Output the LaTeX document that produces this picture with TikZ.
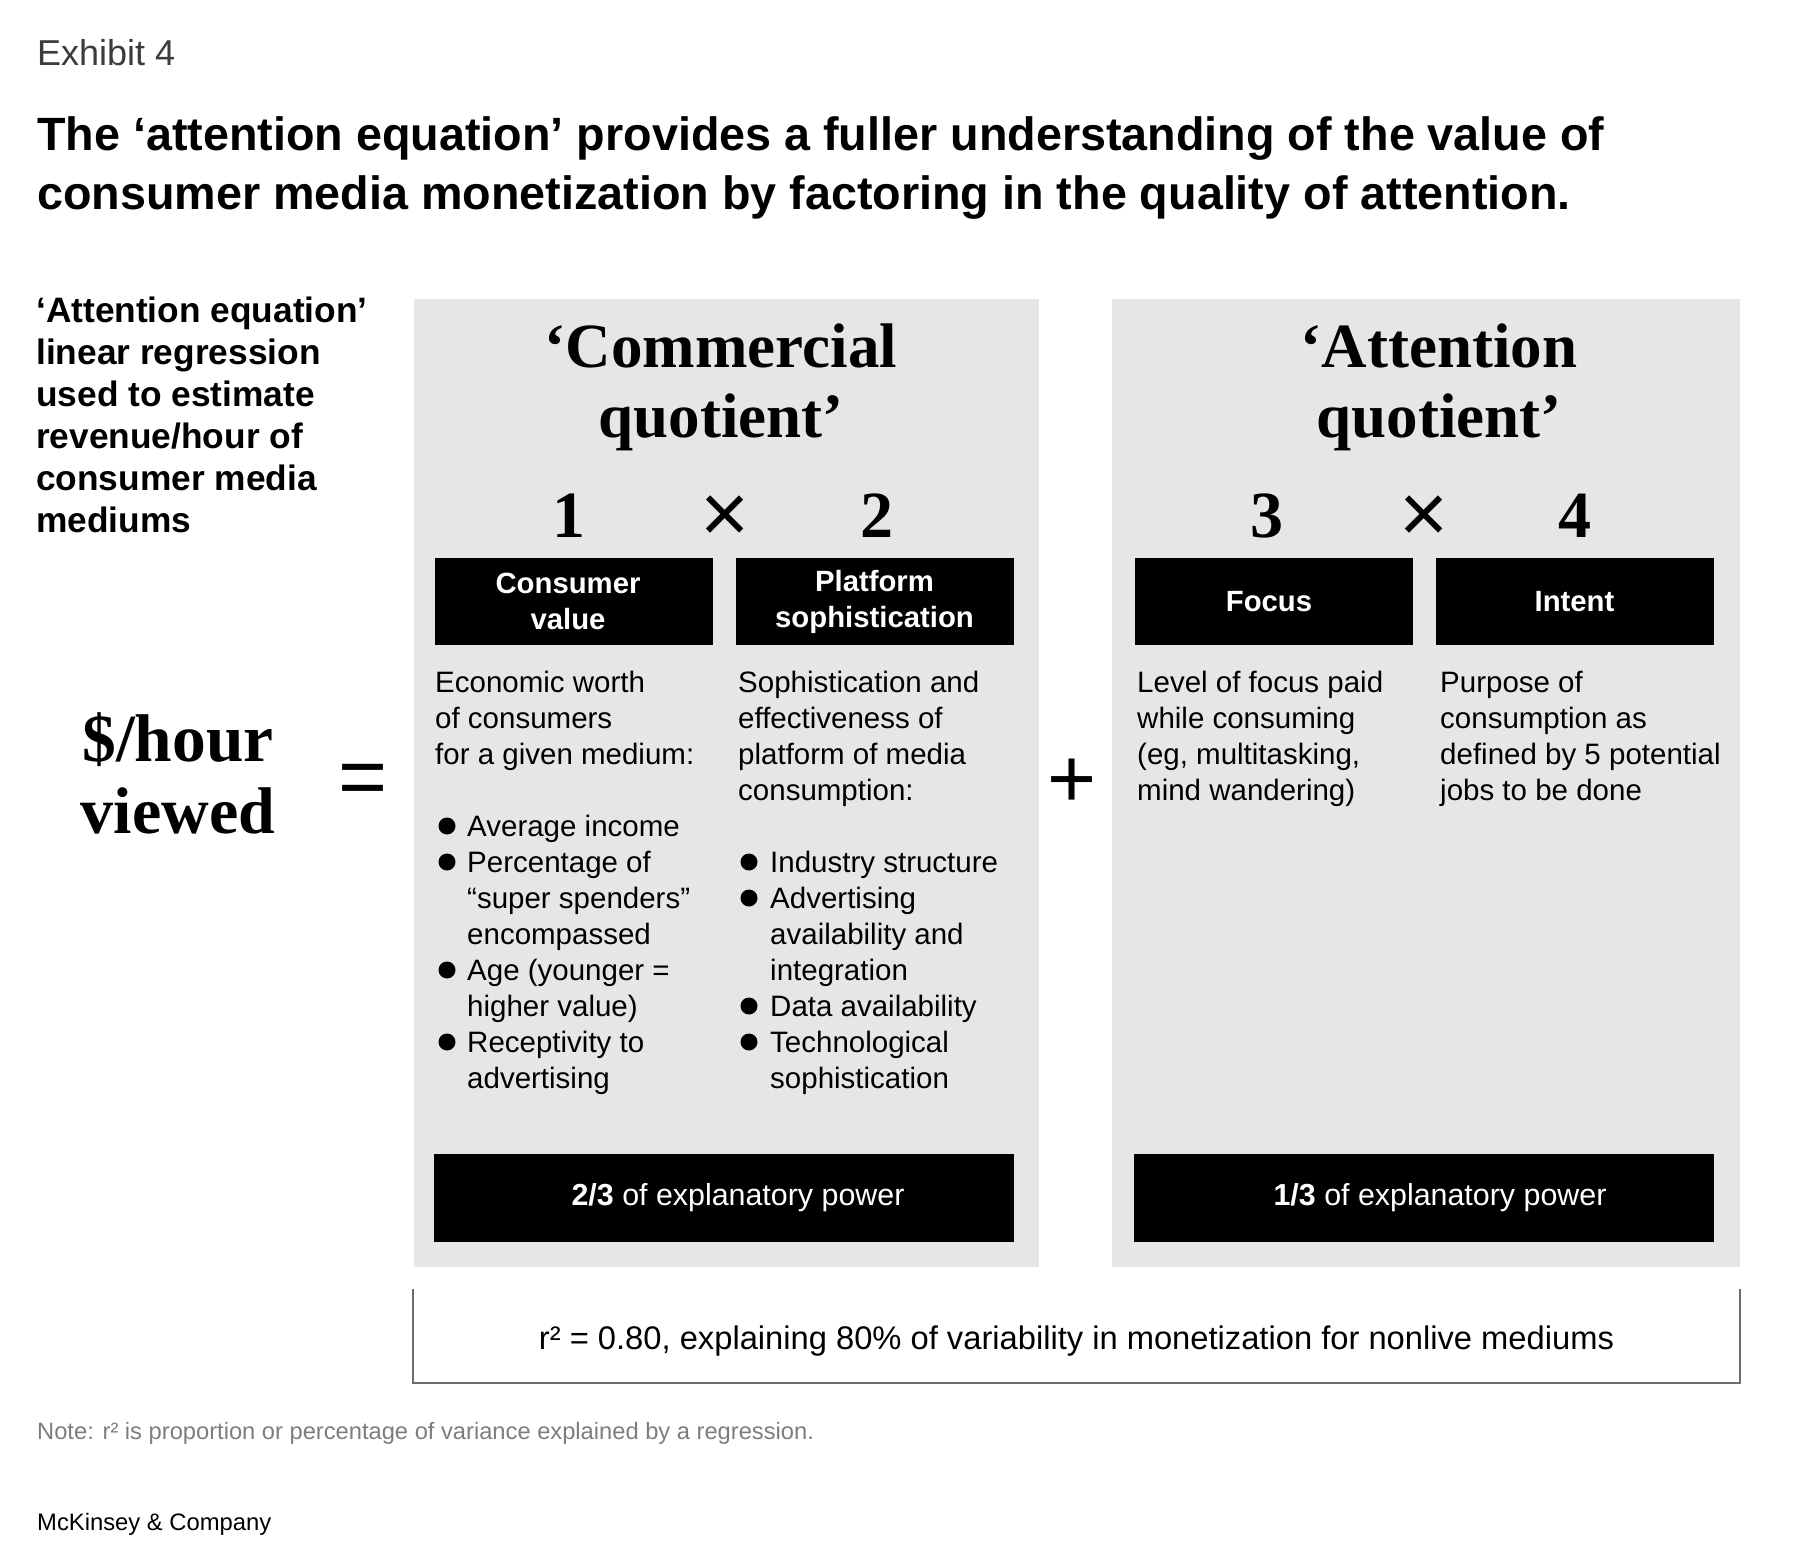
\documentclass[tikz,border=0pt]{standalone}
\usepackage{fontspec}
\setmainfont{Liberation Sans}
\newfontfamily\serifa{Liberation Serif}
\usetikzlibrary{positioning}

\definecolor{fondo}{RGB}{230,230,232}
\definecolor{borde}{RGB}{110,110,110}
\definecolor{gris}{RGB}{125,125,125}
\definecolor{oscuro}{RGB}{60,60,60}

\tikzset{
  panel/.style={fill=fondo, inner sep=0pt, anchor=north west},
  caja/.style={fill=black, text=white, inner sep=0pt, align=center,
    minimum width=278pt, minimum height=87pt,
    font=\bfseries\fontsize{29.3}{36}\selectfont},
  pie/.style={fill=black, inner sep=0pt, minimum width=580pt, minimum height=88pt},
  pietexto/.style={text=white, inner sep=0pt, font=\fontsize{30.4}{36}\selectfont},
  linea/.style={anchor=base west, inner sep=0pt, font=\fontsize{29.5}{36}\selectfont},
  izq/.style={anchor=base west, inner sep=0pt, font=\bfseries\fontsize{35.3}{42}\selectfont},
  cita/.style={anchor=base, inner sep=0pt, font=\serifa\bfseries\fontsize{63}{70}\selectfont},
  numero/.style={anchor=base, inner sep=0pt, font=\serifa\bfseries\fontsize{66}{70}\selectfont},
  signo/.style={inner sep=0pt, font=\fontsize{84}{84}\selectfont},
  bala/.style={circle, fill=black, minimum size=17pt, inner sep=0pt},
}

\begin{document}
\begin{tikzpicture}[x=1pt, y=-1pt]
  \useasboundingbox (0,0) rectangle (1800,1566);

  % Encabezado
  \node[anchor=base west, inner sep=0pt, text=oscuro, font=\fontsize{36}{40}\selectfont] (exh) at (37,65) {Exhibit 4};
  \node[anchor=base west, inner sep=0pt, font=\bfseries\fontsize{46.7}{59}\selectfont] (tit1) at (37,150) {The ‘attention equation’ provides a fuller understanding of the value of};
  \node[anchor=base west, inner sep=0pt, font=\bfseries\fontsize{46.7}{59}\selectfont] (tit2) at (37,209) {consumer media monetization by factoring in the quality of attention.};

  % Texto izquierdo
  \foreach \t [count=\i from 0] in {‘Attention equation’, linear regression, used to estimate, revenue/hour of, consumer media, mediums}
    \node[izq] (iz-\i) at (36,{322+42*\i}) {\t};
  \node[cita, font=\serifa\bfseries\fontsize{67.5}{72}\selectfont] (ph1) at (178,761) {\$/hour};
  \node[cita, font=\serifa\bfseries\fontsize{66}{72}\selectfont] (ph2) at (178,833) {viewed};
  \node[signo] (igual) at (363,785) {=};

  % Paneles
  \node[panel, minimum width=625pt, minimum height=968pt] (cq) at (414,299) {};
  \node[panel, minimum width=628pt, minimum height=968pt] (aq) at (1112,299) {};
  \node[signo] (mas) at (1072,783) {+};

  % Titulos
  \node[cita] (cq1) at (721,367) {‘Commercial};
  \node[cita] (cq2) at (721,437) {quotient’};
  \node[cita] (aq1) at (1439,367) {‘Attention};
  \node[cita] (aq2) at (1439,437) {quotient’};

  % Numeros
  \node[numero] (n1) at (569,537) {1};
  \node[signo] (por1) at (725,519) {×};
  \node[numero] (n2) at (877,537) {2};
  \node[numero] (n3) at (1267,537) {3};
  \node[signo] (por2) at (1424,519) {×};
  \node[numero] (n4) at (1575,537) {4};

  % Cajas
  \node[caja] (cv) at (573.5,601.5) {Consumer\hspace*{11pt}\\value\hspace*{11pt}};
  \node[caja] (ps) at (874.5,601.5) {Platform\\sophistication};
  \node[caja] (fo) at (1273.5,601.5) {Focus\hspace*{9pt}};
  \node[caja] (in) at (1574.5,601.5) {Intent};

  % Columnas
  \foreach \t [count=\i from 0] in {Economic worth, of consumers, for a given medium:}
    \node[linea] (c1-\i) at (435,{692+36*\i}) {\t};
  \foreach \r/\t in {4/Average income, 5/Percentage of, 6/“super spenders”, 7/encompassed, 8/Age (younger =, 9/higher value), 10/Receptivity to, 11/advertising}
    \node[linea] (c1-\r) at (467,{692+36*\r}) {\t};
  \foreach \r in {4,5,8,10}
    \node[bala] (b1-\r) at (447,{682+36*\r}) {};

  \foreach \t [count=\i from 0] in {Sophistication and, effectiveness of, platform of media, consumption:}
    \node[linea] (c2-\i) at (738,{692+36*\i}) {\t};
  \foreach \r/\t in {5/Industry structure, 6/Advertising, 7/availability and, 8/integration, 9/Data availability, 10/Technological, 11/sophistication}
    \node[linea] (c2-\r) at (770,{692+36*\r}) {\t};
  \foreach \r in {5,6,9,10}
    \node[bala] (b2-\r) at (749,{682+36*\r}) {};

  \foreach \t [count=\i from 0] in {Level of focus paid, while consuming, {(eg, multitasking,}, mind wandering)}
    \node[linea] (c3-\i) at (1137,{692+36*\i}) {\t};
  \foreach \t [count=\i from 0] in {Purpose of, consumption as, defined by 5 potential, jobs to be done}
    \node[linea] (c4-\i) at (1440,{692+36*\i}) {\t};

  % Pie de paneles
  \node[pie] (p1) at (724,1198) {};
  \node[pie] (p2) at (1424,1198) {};
  \node[pietexto] (t1) at ([xshift=14pt]p1.center) {\textbf{2/3} of explanatory power};
  \node[pietexto] (t2) at ([xshift=16pt]p2.center) {\textbf{1/3} of explanatory power};

  \node[inner sep=0pt, minimum width=1327pt, minimum height=94pt, font=\fontsize{32.7}{36}\selectfont] (r2) at (1076.5,1336) {};
  \node[inner sep=0pt, font=\fontsize{32.7}{36}\selectfont] (r2t) at ([yshift=-5pt]r2.center) {r² = 0.80, explaining 80\% of variability in monetization for nonlive mediums};
  \draw[borde, line width=1.5pt] (r2.north west) |- (r2.south east) -- (r2.north east);

  % Notas
  \node[anchor=base west, inner sep=0pt, text=gris, font=\fontsize{23.7}{26}\selectfont] (nota) at (37,1439) {Note: r² is proportion or percentage of variance explained by a regression.};
  \node[anchor=base west, inner sep=0pt, font=\fontsize{23.8}{26}\selectfont] (mck) at (37,1530) {McKinsey \& Company};
\end{tikzpicture}
\end{document}
